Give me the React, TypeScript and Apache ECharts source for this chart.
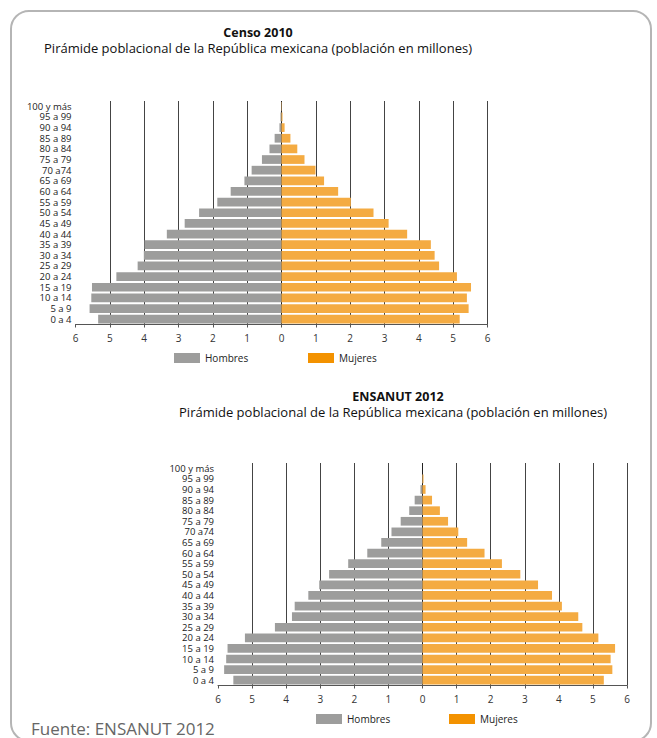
import React, { useEffect, useRef } from "react";
import * as echarts from "echarts";

const ageGroups = [
  "0 a 4", "5 a 9", "10 a 14", "15 a 19", "20 a 24", "25 a 29", "30 a 34",
  "35 a 39", "40 a 44", "45 a 49", "50 a 54", "55 a 59", "60 a 64", "65 a 69",
  "70 a74", "75 a 79", "80 a 84", "85 a 89", "90 a 94", "95 a 99", "100 y más",
];

const censoHombres = [5.34, 5.59, 5.54, 5.52, 4.81, 4.19, 4.01, 3.99, 3.34, 2.82, 2.4, 1.87, 1.48, 1.08, 0.87, 0.57, 0.35, 0.2, 0.06, 0.03, 0.01];
const censoMujeres = [5.19, 5.45, 5.4, 5.52, 5.11, 4.59, 4.46, 4.35, 3.66, 3.12, 2.68, 2.02, 1.65, 1.24, 0.99, 0.67, 0.46, 0.26, 0.09, 0.03, 0.01];
const ensanutHombres = [5.55, 5.82, 5.76, 5.72, 5.21, 4.33, 3.83, 3.75, 3.35, 3.03, 2.74, 2.18, 1.62, 1.21, 0.91, 0.64, 0.39, 0.23, 0.06, 0.01, 0];
const ensanutMujeres = [5.32, 5.57, 5.52, 5.65, 5.16, 4.69, 4.57, 4.09, 3.8, 3.39, 2.87, 2.33, 1.82, 1.31, 1.05, 0.75, 0.51, 0.28, 0.09, 0.03, 0];

const title1 = "Censo 2010";
const title2 = "ENSANUT 2012";
const subtitle = "Pirámide poblacional de la República mexicana (población en millones)";
const source = "Fuente: ENSANUT 2012";
const legendNames = ["Hombres", "Mujeres"];

const FONT = "'Open Sans', 'Noto Sans', sans-serif";
const GRAY = "#9d9d9c";
const ORANGE = "#f4ab42";
const LEG_ORANGE = "#f39200";

export default function App() {
  const ref = useRef<HTMLDivElement>(null);
  useEffect(() => {
    if (!ref.current) return;
    const chart = echarts.init(ref.current, undefined, { renderer: "svg" });
    const gridDefs = [
      { left: 75.5, top: 101, width: 412, height: 223.5 },
      { left: 218, top: 463, width: 409, height: 222.5 },
    ];
    const splitColors = Array.from({ length: 13 }, (_, i) =>
      i === 0 ? "rgba(0,0,0,0)" : i === 6 ? "#222" : "#444"
    );
    const xAxes = gridDefs.map((_, i) => ({
      type: "value",
      gridIndex: i,
      min: -6,
      max: 6,
      interval: 1,
      axisLine: { show: true, lineStyle: { color: "#555", width: 1 } },
      axisTick: { show: true, length: 3, lineStyle: { color: "#555" } },
      axisLabel: {
        color: "#333",
        fontSize: 10,
        fontFamily: FONT,
        margin: 8,
        formatter: (v: number) => String(Math.abs(v)),
      },
      splitLine: { show: true, lineStyle: { color: splitColors, width: 1 } },
    }));
    const yAxes = gridDefs.map((_, i) => ({
      type: "category",
      gridIndex: i,
      data: ageGroups,
      axisLine: { show: false, onZero: false },
      axisTick: { show: false },
      axisLabel: {
        interval: 0,
        color: "#222",
        fontSize: 9.5,
        fontFamily: FONT,
        margin: 4,
        lineHeight: 10,
      },
      splitLine: { show: false },
    }));
    const mkSeries = (name: string, data: number[], idx: number, color: string, neg: boolean) => ({
      name,
      type: "bar",
      xAxisIndex: idx,
      yAxisIndex: idx,
      data: data.map((v) => (neg ? -v : v)),
      barGap: "-100%",
      barCategoryGap: "18%",
      itemStyle: { color },
      silent: true,
    });
    const legendAt = (name: string, color: string, left: number, top: number) => ({
      data: [{ name, itemStyle: { color } }],
      left,
      top,
      padding: 0,
      itemWidth: 26,
      itemHeight: 10,
      itemGap: 5,
      icon: "rect",
      selectedMode: false,
      textStyle: { fontSize: 10, color: "#222", fontFamily: FONT, padding: [0, 0, 0, 0] },
    });
    const text = (t: string, x: number, y: number, size: number, weight: string, fill = "#111", align = "center") => ({
      type: "text",
      x,
      y,
      silent: true,
      style: {
        text: t,
        fontSize: size,
        fontWeight: weight,
        fontFamily: FONT,
        fill,
        textAlign: align,
        textVerticalAlign: "middle",
      },
    });
    chart.setOption({
      animation: false,
      backgroundColor: "#ffffff",
      grid: gridDefs.map((g) => ({ ...g, containLabel: false })),
      xAxis: xAxes,
      yAxis: yAxes,
      legend: [
        legendAt(legendNames[0], GRAY, 174, 353),
        legendAt(legendNames[1], LEG_ORANGE, 308, 353),
        legendAt(legendNames[0], GRAY, 316, 714),
        legendAt(legendNames[1], LEG_ORANGE, 449, 714),
      ],
      series: [
        mkSeries(legendNames[0], censoHombres, 0, GRAY, true),
        mkSeries(legendNames[1], censoMujeres, 0, ORANGE, false),
        mkSeries(legendNames[0], ensanutHombres, 1, GRAY, true),
        mkSeries(legendNames[1], ensanutMujeres, 1, ORANGE, false),
      ],
      graphic: [
        {
          type: "rect",
          silent: true,
          shape: { x: 11, y: 11, width: 640, height: 730, r: 18 },
          style: { fill: "none", stroke: "#b5b5b5", lineWidth: 2 },
        },
        text(title1, 258, 32, 12.5, "bold"),
        text(subtitle, 258, 48, 13, "normal"),
        text(title2, 398, 396, 12.5, "bold"),
        text(subtitle, 393, 412, 13, "normal"),
        text(source, 31, 728, 17, "normal", "#666", "left"),
      ],
    });
    return () => chart.dispose();
  }, []);
  return (
    <div
      ref={ref}
      style={{ position: "absolute", left: 0, top: 0, width: 657, height: 738 }}
    />
  );
}
